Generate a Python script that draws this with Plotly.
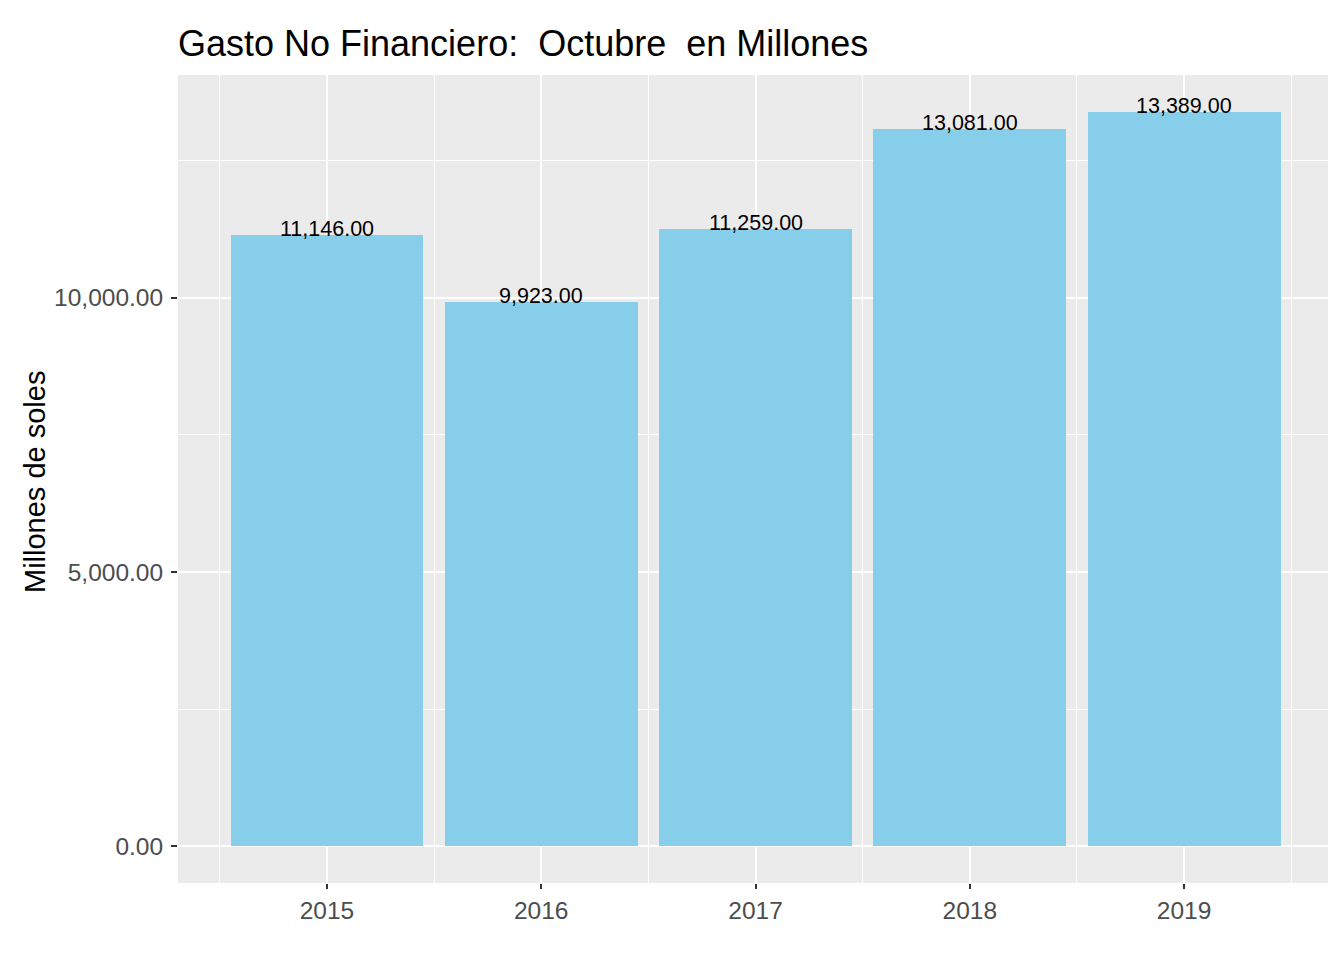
import plotly.graph_objects as go

years = [2015, 2016, 2017, 2018, 2019]
values = [11146, 9923, 11259, 13081, 13389]
value_labels = ["11,146.00", "9,923.00", "11,259.00", "13,081.00", "13,389.00"]
y_tick_vals = [0, 5000, 10000]
y_tick_text = ["0.00", "5,000.00", "10,000.00"]
title_text = "Gasto No Financiero:  Octubre  en Millones"
y_title = "Millones de soles"

OFF = 8  # page body margin
W, H = 1336 - OFF, 959 - OFF
L, R = 178 - OFF, 3
T = 75 - OFF
B = H - (883 - OFF)
pw = W - L - R
ph = H - T - B

FONT = "Liberation Sans, Arial, sans-serif"

fig = go.Figure()
fig.add_trace(go.Bar(
    x=years, y=values, width=0.9,
    marker=dict(color="#87CEEB", line=dict(width=0)),
    hoverinfo="skip", showlegend=False,
))

for xv, yv, lab in zip(years, values, value_labels):
    fig.add_annotation(x=xv, y=yv, text=lab, showarrow=False,
                       xanchor="center", yanchor="middle", yshift=6,
                       font=dict(family=FONT, size=21.5, color="black"))

# y axis title
fig.add_annotation(xref="paper", yref="paper",
                   x=(35 - OFF - L) / pw, y=(H - B - (482 - OFF)) / ph,
                   text=y_title, textangle=-90, showarrow=False,
                   xanchor="center", yanchor="middle",
                   font=dict(family=FONT, size=29, color="black"))

fig.update_layout(
    width=W, height=H,
    margin=dict(l=L, r=R, t=T, b=B, pad=0),
    paper_bgcolor="white",
    plot_bgcolor="#EBEBEB",
    title=dict(text=title_text, x=0, xref="paper", xanchor="left",
               y=1 - (43 - OFF) / H, yref="container", yanchor="middle",
               font=dict(family=FONT, size=36, color="black")),
    bargap=0,
    xaxis=dict(
        range=[2014.305, 2019.695],
        tickmode="array", tickvals=years, ticktext=[str(y) for y in years],
        showgrid=True, gridcolor="white", gridwidth=2,
        zeroline=False, showline=False,
        ticks="outside", ticklen=5, tickwidth=1.5, tickcolor="#333333",
        tickfont=dict(family=FONT, size=24.5, color="#4D4D4D"),
        ticklabelstandoff=1,
        minor=dict(tickmode="array", tickvals=[2014.5, 2015.5, 2016.5, 2017.5, 2018.5, 2019.5],
                   showgrid=True, gridcolor="white", gridwidth=1, ticks=""),
        fixedrange=True,
    ),
    yaxis=dict(
        range=[-669.45, 14058.45],
        tickmode="array", tickvals=y_tick_vals, ticktext=y_tick_text,
        showgrid=True, gridcolor="white", gridwidth=2,
        zeroline=False, showline=False,
        ticks="outside", ticklen=6, tickwidth=1.5, tickcolor="#333333",
        tickfont=dict(family=FONT, size=24.5, color="#4D4D4D"),
        ticklabelstandoff=3,
        minor=dict(tickmode="array", tickvals=[2500, 7500, 12500],
                   showgrid=True, gridcolor="white", gridwidth=1, ticks=""),
        fixedrange=True,
    ),
)

fig.write_html("out.html")
